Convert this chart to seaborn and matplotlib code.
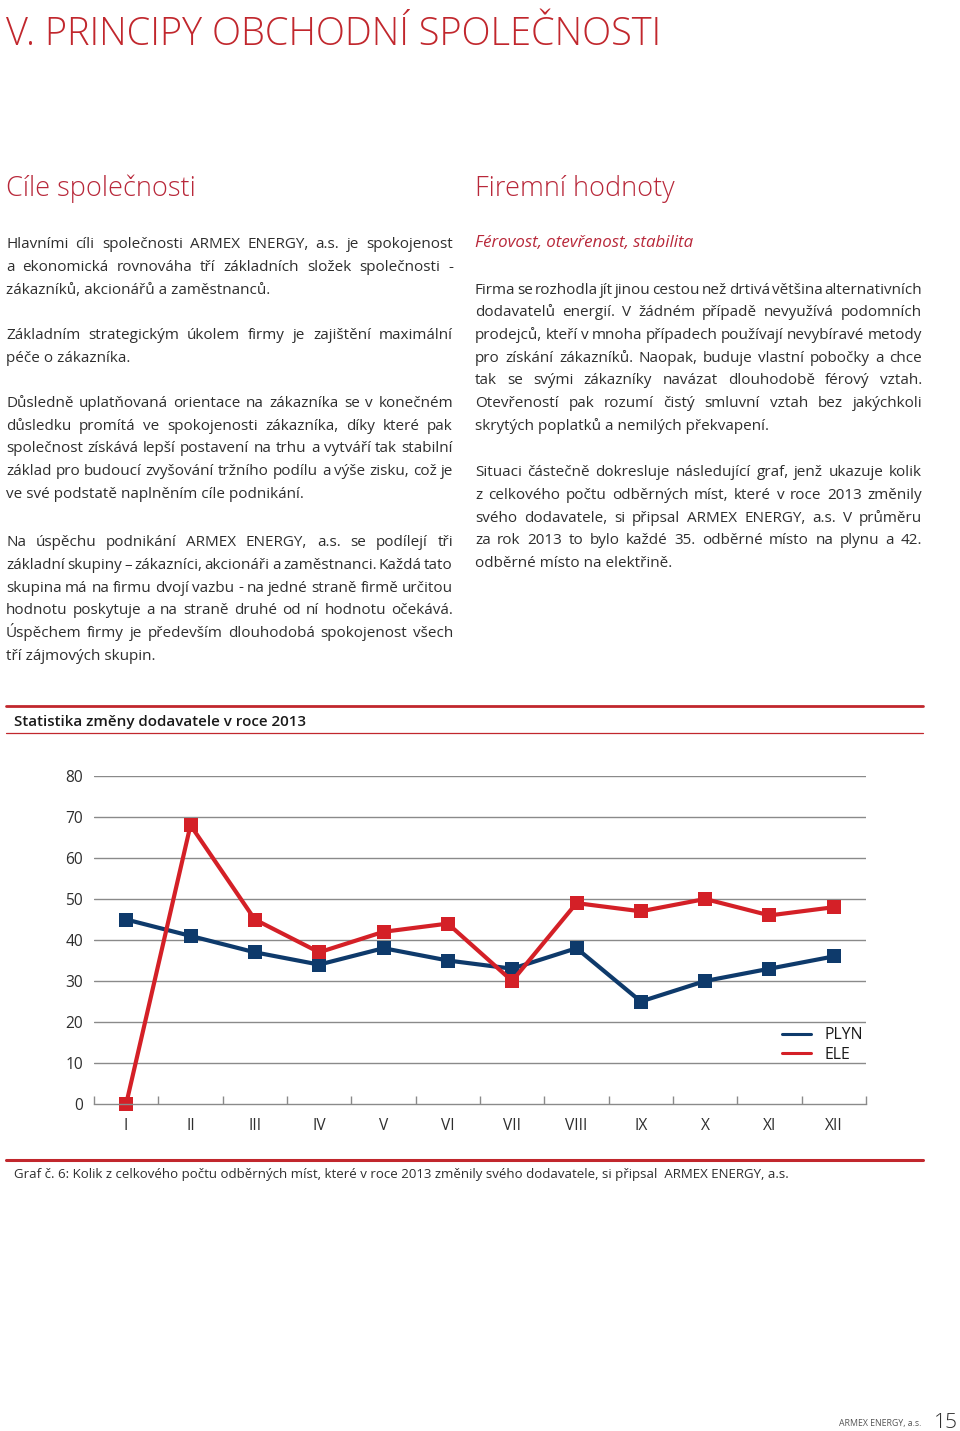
import matplotlib
matplotlib.use("Agg")
import matplotlib.pyplot as plt
from matplotlib.lines import Line2D
from matplotlib.ticker import FixedLocator
import seaborn as sns
import pandas as pd

# ---------------- data ----------------
months = ["I", "II", "III", "IV", "V", "VI", "VII", "VIII", "IX", "X", "XI", "XII"]
plyn = [45, 41, 37, 34, 38, 35, 33, 38, 25, 30, 33, 36]
ele = [0, 68, 45, 37, 42, 44, 30, 49, 47, 50, 46, 48]
series_names = ["PLYN", "ELE"]
y_ticks = [0, 10, 20, 30, 40, 50, 60, 70, 80]

page_title = "V. PRINCIPY OBCHODNÍ SPOLEČNOSTI"
left_heading = "Cíle společnosti"
right_heading = "Firemní hodnoty"
right_sub = "Férovost, otevřenost, stabilita"
chart_title = "Statistika změny dodavatele v roce 2013"
caption = ("Graf č. 6: Kolik z celkového počtu odběrných míst, které v roce 2013 "
           "změnily svého dodavatele, si připsal  ARMEX ENERGY, a.s.")
footer_company = "ARMEX ENERGY, a.s."
page_number = "15"

left_paragraphs = [
    ["Hlavními cíli společnosti ARMEX ENERGY, a.s. je spokojenost",
     "a ekonomická rovnováha tří základních složek společnosti -",
     "zákazníků, akcionářů a zaměstnanců."],
    ["Základním strategickým úkolem firmy je zajištění maximální",
     "péče o zákazníka."],
    ["Důsledně uplatňovaná orientace na zákazníka se v konečném",
     "důsledku promítá ve spokojenosti zákazníka, díky které pak",
     "společnost získává lepší postavení na trhu a vytváří tak stabilní",
     "základ pro budoucí zvyšování tržního podílu a výše zisku, což je",
     "ve své podstatě naplněním cíle podnikání."],
    ["Na úspěchu podnikání ARMEX ENERGY, a.s. se podílejí tři",
     "základní skupiny – zákazníci, akcionáři a zaměstnanci. Každá tato",
     "skupina má na firmu dvojí vazbu - na jedné straně firmě určitou",
     "hodnotu poskytuje a na straně druhé od ní hodnotu očekává.",
     "Úspěchem firmy je především dlouhodobá spokojenost všech",
     "tří zájmových skupin."],
]
right_paragraphs = [
    ["Firma se rozhodla jít jinou cestou než drtivá většina alternativních",
     "dodavatelů energií. V žádném případě nevyužívá podomních",
     "prodejců, kteří v mnoha případech používají nevybíravé metody",
     "pro získání zákazníků. Naopak, buduje vlastní pobočky a chce",
     "tak se svými zákazníky navázat dlouhodobě férový vztah.",
     "Otevřeností pak rozumí čistý smluvní vztah bez jakýchkoli",
     "skrytých poplatků a nemilých překvapení."],
    ["Situaci částečně dokresluje následující graf, jenž ukazuje kolik",
     "z celkového počtu odběrných míst, které v roce 2013 změnily",
     "svého dodavatele, si připsal  ARMEX ENERGY, a.s. V průměru",
     "za rok 2013 to bylo každé 35. odběrné místo na plynu a 42.",
     "odběrné místo na elektřině."],
]

# ---------------- style ----------------
RED_T = "#C1272D"
RED_H = "#B8283A"
RED_L = "#D42027"
BLUE = "#0E3A6B"
GRID = "#8A8A8A"
TXT = "#2E2E2E"

sns.set_theme(style="white")
plt.rcParams["font.family"] = ["Open Sans", "DejaVu Sans"]

W, H = 960, 1431
fig = plt.figure(figsize=(W / 100, H / 100), dpi=100)
renderer = fig.canvas.get_renderer()


def X(px):
    return px / W


def Y(py):
    return 1 - py / H


def measure(s, **kw):
    t = fig.text(0, 0, s, **kw)
    w = t.get_window_extent(renderer).width
    t.remove()
    return w


def paragraph(lines, x0, width, y0, pitch, **kw):
    for i, line in enumerate(lines):
        y = y0 + i * pitch
        if i == len(lines) - 1:
            fig.text(X(x0), Y(y), line, ha="left", va="baseline", **kw)
            continue
        words = line.split()
        ws = [measure(w, **kw) for w in words]
        gap = (width - sum(ws)) / (len(words) - 1)
        x = x0
        for w, wl in zip(words, ws):
            fig.text(X(x), Y(y), w, ha="left", va="baseline", **kw)
            x += wl + gap


body = dict(fontsize=11.0, color=TXT)

# page title + headings
fig.text(X(6), Y(45), page_title, fontsize=27.4, color=RED_T, fontweight="light",
         ha="left", va="baseline")
fig.text(X(6), Y(196), left_heading, fontsize=19.5, color=RED_H, fontweight="light",
         ha="left", va="baseline")
fig.text(X(475), Y(196), right_heading, fontsize=19.5, color=RED_H, fontweight="light",
         ha="left", va="baseline")
fig.text(X(475), Y(247), right_sub, fontsize=12.2, color=RED_H, style="italic",
         ha="left", va="baseline")

# body text
pitch = 22.75
starts_left = [248, 339, 407, 546]
for lines, y0 in zip(left_paragraphs, starts_left):
    paragraph(lines, 6, 447, y0, pitch, **body)
starts_right = [293.5, 476]
for lines, y0 in zip(right_paragraphs, starts_right):
    paragraph(lines, 475, 447, y0, pitch, **body)

# chart frame lines and title
fig.add_artist(Line2D([X(6), X(923)], [Y(706), Y(706)], color=RED_T, lw=2.0))
fig.add_artist(Line2D([X(6), X(923)], [Y(733), Y(733)], color=RED_T, lw=0.9))
fig.text(X(14), Y(726), chart_title, fontsize=10.9, color="#1a1a1a",
         fontweight="semibold", ha="left", va="baseline")
fig.add_artist(Line2D([X(6), X(923)], [Y(1160), Y(1160)], color=RED_T, lw=2.2))
fig.text(X(14), Y(1178), caption, fontsize=9.55, color=TXT, ha="left", va="baseline")

# footer
fig.text(X(921), Y(1426), footer_company, fontsize=6.3, color="#555555",
         ha="right", va="baseline")
fig.text(X(958), Y(1428), page_number, fontsize=15, color=TXT,
         ha="right", va="baseline", fontweight="light")

# ---------------- chart ----------------
ax = fig.add_axes([X(94), Y(1104), (866 - 94) / W, (1104 - 776) / H])
df = pd.DataFrame({
    "idx": list(range(len(months))) * 2,
    "value": plyn + ele,
    "series": ["PLYN"] * len(plyn) + ["ELE"] * len(ele),
})
sns.lineplot(data=df, x="idx", y="value", hue="series", style="series",
             hue_order=series_names, style_order=series_names,
             palette={"PLYN": BLUE, "ELE": RED_L},
             markers={"PLYN": "s", "ELE": "s"}, dashes=False,
             linewidth=3, markersize=10, markeredgewidth=0,
             legend=False, ax=ax)
for ln in ax.lines:
    ln.set_clip_on(False)
    ln.set_solid_joinstyle("miter")

ax.set_xlim(-0.5, len(months) - 0.5)
ax.set_ylim(0, 80)
ax.set_yticks(y_ticks)
ax.set_yticklabels([str(v) for v in y_ticks])
ax.set_xticks(range(len(months)))
ax.set_xticklabels(months)
ax.xaxis.set_minor_locator(FixedLocator([i - 0.5 for i in range(len(months) + 1)]))
ax.set_xlabel("")
ax.set_ylabel("")
for v in y_ticks[1:]:
    ax.axhline(v, color=GRID, lw=1.0, zorder=0)
for s in ["top", "right", "left"]:
    ax.spines[s].set_visible(False)
ax.spines["bottom"].set_color(GRID)
ax.spines["bottom"].set_linewidth(1.0)
ax.tick_params(axis="x", which="major", length=0, pad=10, labelsize=11.2, labelcolor=TXT)
ax.tick_params(axis="x", which="minor", direction="in", length=6, width=1.0,
               color=GRID, bottom=True)
ax.tick_params(axis="y", length=0, pad=8, labelsize=11.2, labelcolor=TXT)
ax.set_facecolor("none")
ax.grid(False)

handles = [Line2D([], [], color=BLUE, lw=2.2), Line2D([], [], color=RED_L, lw=2.2)]
fig.legend(handles, series_names, loc="center left",
           bbox_to_anchor=(X(782), Y(1045)), bbox_transform=fig.transFigure,
           frameon=False, fontsize=11.4, handlelength=1.85, handletextpad=0.85,
           labelspacing=0.2, borderpad=0, borderaxespad=0, labelcolor="#1a1a1a")

fig.savefig("out.png", dpi=100)
